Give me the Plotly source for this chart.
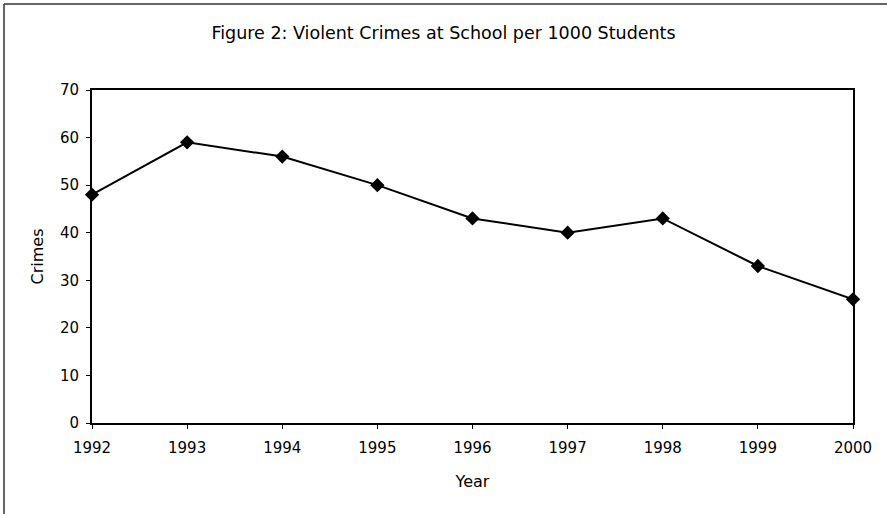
import plotly.graph_objects as go

years = [1992, 1993, 1994, 1995, 1996, 1997, 1998, 1999, 2000]
crimes = [48, 59, 56, 50, 43, 40, 43, 33, 26]
y_ticks = [0, 10, 20, 30, 40, 50, 60, 70]

W, H = 887, 514
ml, mr, mt, mb = 92, 34, 90, 91
pw, ph = W - ml - mr, H - mt - mb

fig = go.Figure()
fig.add_trace(go.Scatter(
    x=years, y=crimes, mode="lines+markers",
    line=dict(color="black", width=2),
    marker=dict(symbol="diamond", size=11, color="black"),
    cliponaxis=False, showlegend=False,
))

font = "DejaVu Sans, Arial, sans-serif"
fig.update_layout(
    width=W, height=H,
    margin=dict(l=ml, r=mr, t=mt, b=mb),
    paper_bgcolor="white", plot_bgcolor="white",
    font=dict(family=font, color="black", size=14),
    title=dict(text="Figure 2: Violent Crimes at School per 1000 Students",
               x=0.5, xanchor="center", y=1 - 33 / H, yanchor="middle",
               font=dict(size=17.5, family=font)),
    xaxis=dict(range=[1992, 2000], tickvals=years, ticks="outside", ticklen=4,
               tickwidth=1, tickcolor="black", showgrid=False, zeroline=False,
               showline=True, linecolor="black", linewidth=2, mirror=True,
               ticklabelstandoff=6,
               title=dict(text="Year", standoff=20, font=dict(size=16)),
               tickfont=dict(size=15)),
    yaxis=dict(range=[0, 70], tickvals=y_ticks, ticks="outside", ticklen=4,
               tickwidth=1, tickcolor="black", showgrid=False, zeroline=False,
               showline=True, linecolor="black", linewidth=2, mirror=True,
               ticklabelstandoff=4,
               title=dict(text="Crimes", standoff=12, font=dict(size=16)),
               tickfont=dict(size=15)),
)

# outer frame (top and left edges visible in reference)
fig.add_shape(type="line", xref="paper", yref="paper",
              x0=(4 - ml) / pw, x1=(W + 5 - ml) / pw,
              y0=(H - mb - 4) / ph, y1=(H - mb - 4) / ph,
              line=dict(color="#333", width=1.5))
fig.add_shape(type="line", xref="paper", yref="paper",
              x0=(4 - ml) / pw, x1=(4 - ml) / pw,
              y0=(H - mb - 4) / ph, y1=-(mb + 10) / ph,
              line=dict(color="#333", width=1.5))

fig.write_html("out.html", config={"displayModeBar": False},
               post_script="document.body.style.margin='0';")
